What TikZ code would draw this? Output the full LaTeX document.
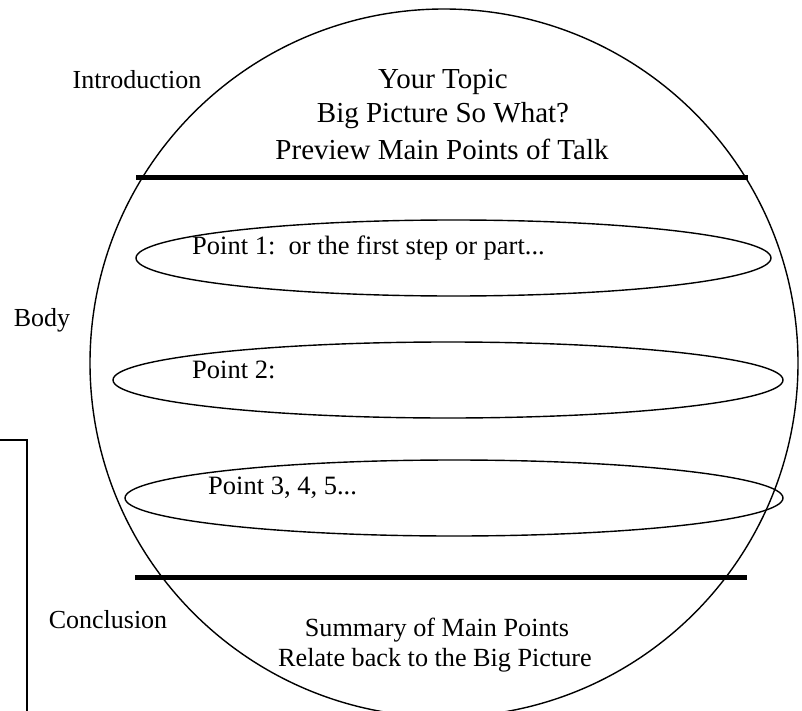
\documentclass[tikz,border=0pt]{standalone}
\usepackage{fontspec}
\setmainfont{Liberation Serif}
\usetikzlibrary{shapes.geometric}
\begin{document}
\begin{tikzpicture}[x=1pt,y=-1pt,
  outline/.style={line width=1.4pt},
  bar/.style={line width=5pt},
  maintext/.style={font=\fontsize{29}{29}\selectfont, inner sep=0pt},
  endtext/.style={font=\fontsize{26.2}{26.2}\selectfont, inner sep=0pt},
  sidetext/.style={font=\fontsize{26}{26}\selectfont, inner sep=0pt},
  pointtext/.style={font=\fontsize{26.5}{26.5}\selectfont, inner sep=0pt, anchor=west}]
\useasboundingbox (0,0) rectangle (802,711);
\begin{scope}
\clip (0,0) rectangle (802,711);
\node[outline, draw, circle, minimum size=708pt, inner sep=0pt] (globe) at (444,363) {};
\node[outline, draw, ellipse, minimum width=635pt, minimum height=76pt, inner sep=0pt] (p1) at (453.5,258) {};
\node[outline, draw, ellipse, minimum width=670pt, minimum height=76pt, inner sep=0pt] (p2) at (448,380) {};
\node[outline, draw, ellipse, minimum width=658pt, minimum height=76pt, inner sep=0pt] (p3) at (454,498) {};
\coordinate (b1l) at (136,178);
\coordinate (b1r) at (748,178);
\coordinate (b2l) at (135,577);
\coordinate (b2r) at (747,577);
\draw[bar] (b1l) -- (b1r);
\draw[bar] (b2l) -- (b2r);
\coordinate (boxa) at (0,440);
\coordinate (boxb) at (27,440);
\coordinate (boxc) at (27,715);
\draw[line width=2pt] (boxa) -- (boxb) -- (boxc);
\end{scope}
\node[sidetext] (intro) at (137,80) {Introduction};
\node[sidetext] (body) at (42,320) {Body};
\node[sidetext] (concl) at (108,620) {Conclusion};
\node[maintext] (t1) at (443,82) {Your Topic};
\node[maintext] (t2) at (443,115.5) {Big Picture So What?};
\node[maintext] (t3) at (442,149) {Preview Main Points of Talk};
\node[pointtext] (pt1) at (192,248) {Point 1:\ \ or the first step or part...};
\node[pointtext] (pt2) at (192,370) {Point 2:};
\node[pointtext] (pt3) at (208,488) {Point 3, 4, 5...};
\node[endtext] (s1) at (437,630) {Summary of Main Points};
\node[endtext] (s2) at (435,660) {Relate back to the Big Picture};
\end{tikzpicture}
\end{document}
